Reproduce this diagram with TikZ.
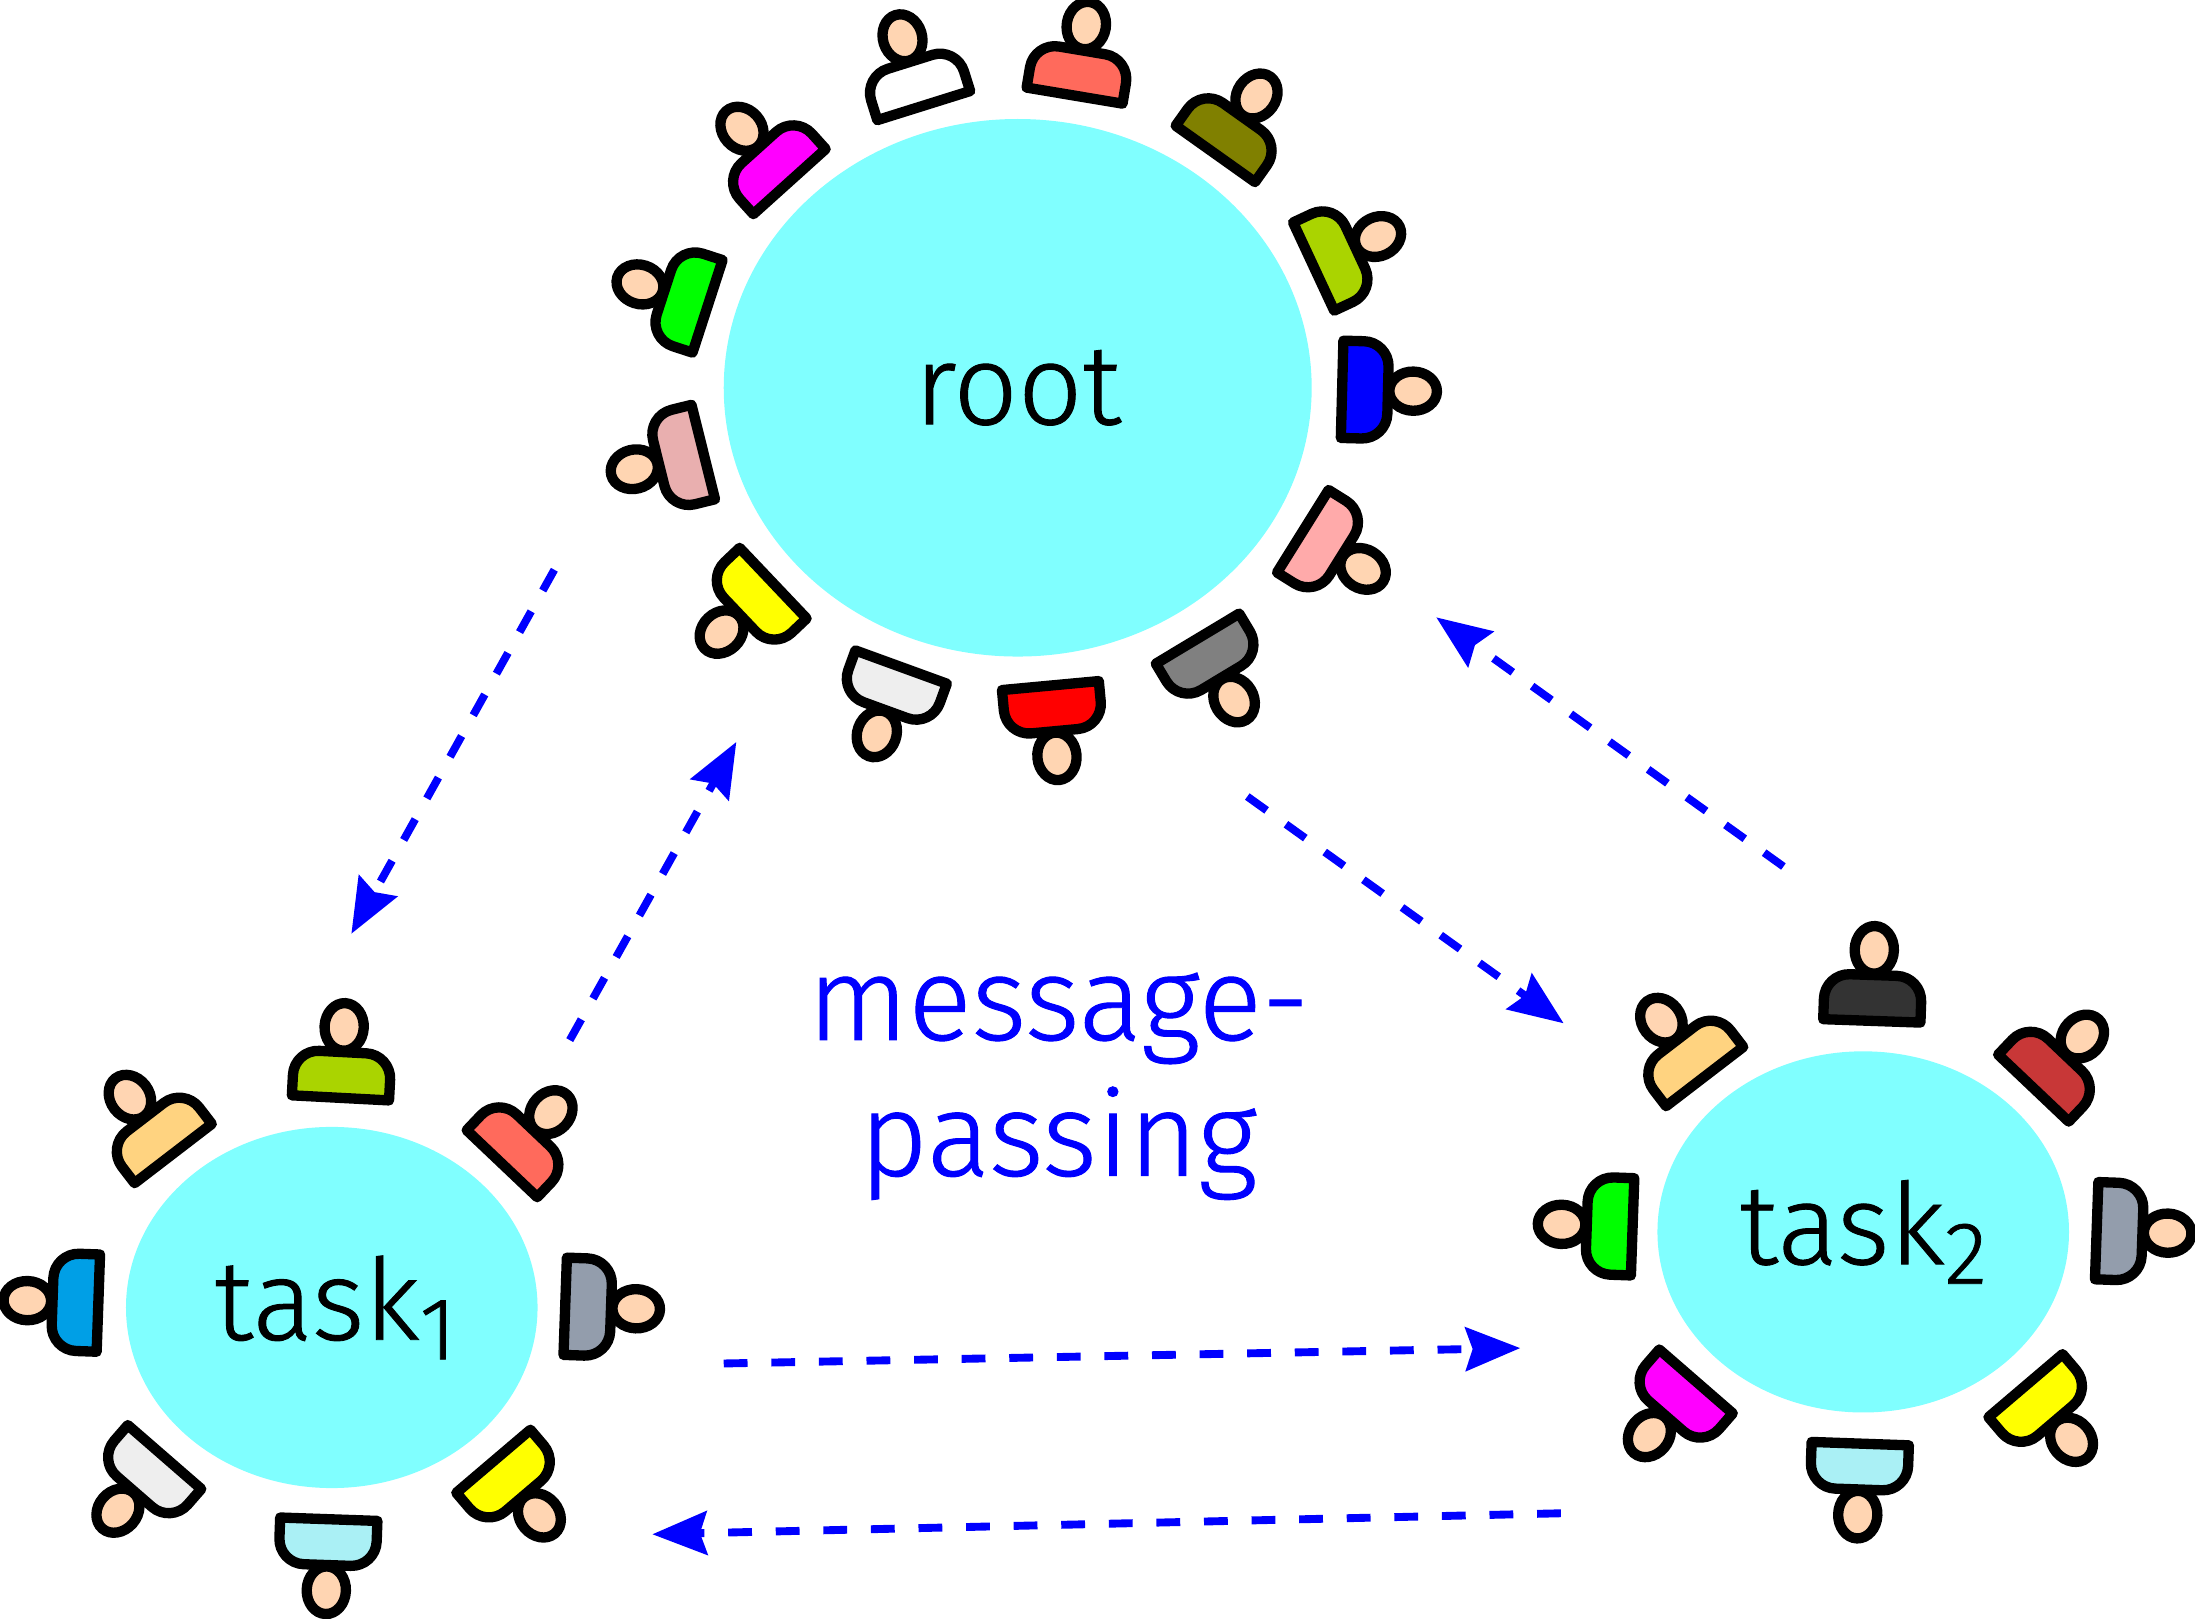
\documentclass[tikz,border=0pt]{standalone}
\usepackage{fontspec}
\setmainfont{Fira Sans}[UprightFont=* Light,UprightFeatures={FakeBold=0.8}]
\usetikzlibrary{shapes.geometric,arrows.meta}
\definecolor{tablecyan}{HTML}{80FFFF}
\definecolor{skin}{HTML}{FFD5B2}
\definecolor{salmon}{HTML}{FF6A5C}
\definecolor{limeshirt}{HTML}{AAD400}
\definecolor{rose}{HTML}{FFAAAA}
\definecolor{dustyrose}{HTML}{E9AFAF}
\definecolor{lightgrey}{HTML}{EEEEEE}
\definecolor{sand}{HTML}{FFD380}
\definecolor{slategrey}{HTML}{939DAC}
\definecolor{aqua}{HTML}{AAF0F5}
\definecolor{skyblue}{HTML}{009FE6}
\definecolor{brick}{HTML}{C83737}
\definecolor{charcoal}{HTML}{333333}
\definecolor{oliveshirt}{HTML}{808000}
\definecolor{pureyellow}{HTML}{FFFF00}
\definecolor{puremagenta}{HTML}{FF00FF}
\definecolor{puregreen}{HTML}{00FF00}
\definecolor{purered}{HTML}{FF0000}
\definecolor{pureblue}{HTML}{0000FF}
\tikzset{
  x=0.1mm,y=-0.1mm,
  table/.style={ellipse,fill=tablecyan,inner sep=0pt,outer sep=0pt,font=\fontsize{23}{26}\selectfont},
  body/.style={draw=black,line width=2.1pt,line join=round},
  head/.style={draw=black,fill=skin,line width=2.1pt},
  message/.style={draw=pureblue,line width=1.6pt,dash pattern=on 1.7mm off 1.7mm,-{Stealth[length=3.9mm,width=3.1mm,inset=0.5mm]}},
}
\newcommand{\person}[4]{
  \begin{scope}[shift={(#1,#2)},rotate=#3]
    \draw[head] (0,-54.5) ellipse [x radius=1.4mm,y radius=1.7mm];
    \draw[body,fill=#4] (-34.75,-3.75) [rounded corners=1.8mm] -- (-34.75,-36.5) -- (34.75,-36.5) [sharp corners] -- (34.75,-3.75) -- cycle;
  \end{scope}
}
\newcommand{\tasksub}[1]{\raisebox{-1.4mm}{\fontsize{18}{20}\selectfont #1}}
\begin{document}
\begin{tikzpicture}
  \useasboundingbox (0,0) rectangle (1568,1156);

  % tables
  \node[table,minimum width=42mm,minimum height=38.4mm] (root) at (727,277) {root};
  \node[table,minimum width=29.4mm,minimum height=25.8mm] (task1) at (237,934) {\hspace{0.5mm}task\tasksub{1}};
  \node[table,minimum width=29.4mm,minimum height=25.8mm] (task2) at (1331,880) {task\tasksub{2}};
  \node[text=pureblue,align=center,font=\fontsize{24}{27.6}\selectfont] (msg) at (756,776) {message-\\passing};

  % root
  \person{661}{79}{17.4}{white}
  \person{767}{72}{-9.5}{salmon}
  \person{866}{113}{-35.4}{oliveshirt}
  \person{935}{192}{-65}{limeshirt}
  \person{955}{278}{-91.5}{pureblue}
  \person{927.5}{377.5}{-122}{rose}
  \person{853.5}{453}{-149}{gray}
  \person{750}{486}{-174.7}{purered}
  \person{645}{473}{160}{lightgrey}
  \person{555}{414}{133.5}{pureyellow}
  \person{506}{322}{104}{dustyrose}
  \person{509}{220}{72}{puregreen}
  \person{566.5}{132.5}{42}{puremagenta}

  % task 1
  \person{243}{788}{-3}{limeshirt}
  \person{356}{834}{-43.5}{salmon}
  \person{400}{933}{-92}{slategrey}
  \person{350}{1041}{-139.6}{pureyellow}
  \person{235}{1081.5}{178}{aqua}
  \person{120}{1038}{139}{lightgrey}
  \person{74}{931}{88}{skyblue}
  \person{126}{827}{37.5}{sand}

  % task 2
  \person{1337}{733}{-2}{charcoal}
  \person{1450}{780}{-43.5}{brick}
  \person{1494}{879}{-92}{slategrey}
  \person{1444.5}{987}{-139.6}{pureyellow}
  \person{1329}{1027.5}{178}{aqua}
  \person{1214}{984}{139}{puremagenta}
  \person{1170}{876.5}{88}{puregreen}
  \person{1220}{772}{37.5}{sand}

  % messages
  \coordinate (a1) at (396,407);
  \coordinate (a2) at (251,667);
  \coordinate (b1) at (407,743);
  \coordinate (b2) at (526,530);
  \coordinate (c1) at (891,569);
  \coordinate (c2) at (1117,731);
  \coordinate (d1) at (1274,619);
  \coordinate (d2) at (1026,441);
  \coordinate (e1) at (517,974);
  \coordinate (e2) at (1086,963);
  \coordinate (f1) at (1115,1081);
  \coordinate (f2) at (466,1096);
  \draw[message] (a1) -- (a2);
  \draw[message] (b1) -- (b2);
  \draw[message] (c1) -- (c2);
  \draw[message] (d1) -- (d2);
  \draw[message] (e1) -- (e2);
  \draw[message] (f1) -- (f2);
\end{tikzpicture}
\end{document}
